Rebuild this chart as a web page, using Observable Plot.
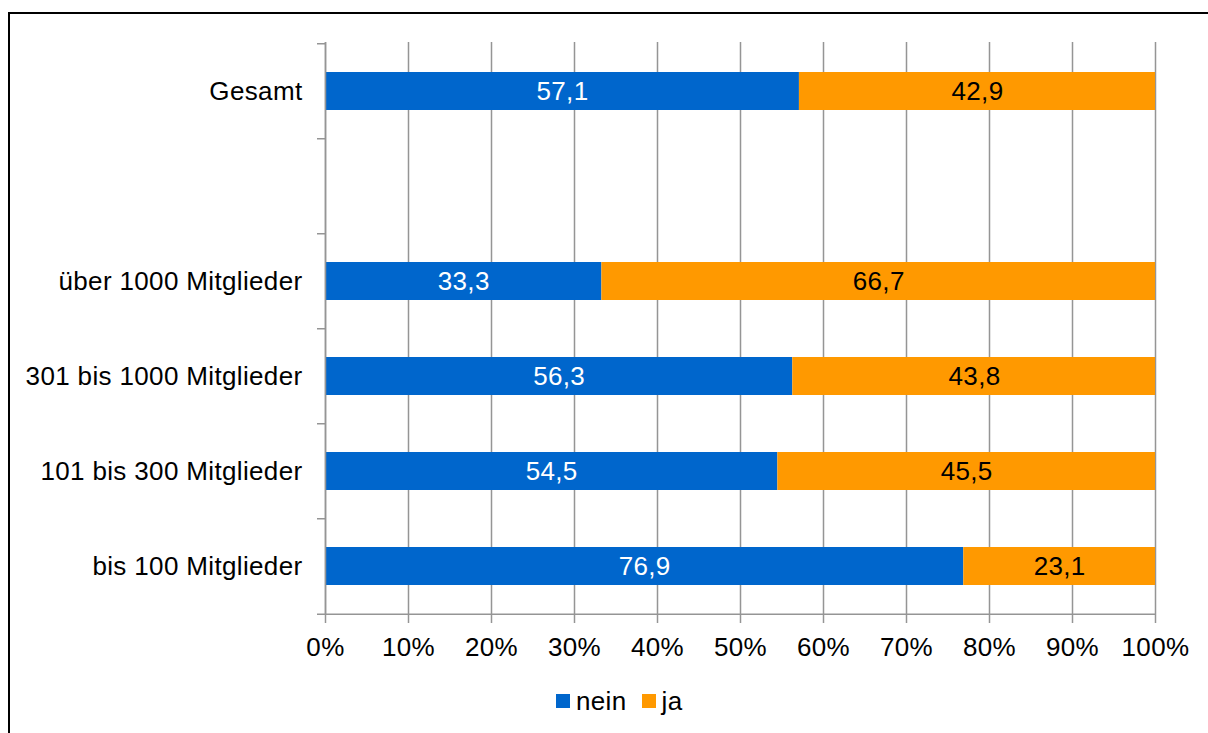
<!DOCTYPE html>
<html><head><meta charset="utf-8">
<script src="https://cdn.jsdelivr.net/npm/d3@7"></script>
<script src="https://cdn.jsdelivr.net/npm/@observablehq/plot@0.6"></script>
<style>
body{margin:0;background:#fff;font-family:"Liberation Sans",Arial,sans-serif;overflow:hidden;}
#frame{position:absolute;left:8px;top:12px;width:1400px;height:900px;border:2px solid #000;box-sizing:border-box;}
#chart{position:absolute;left:0;top:0;}
#chart svg text{letter-spacing:0.35px;}
#legend{position:absolute;left:556px;top:686px;display:flex;align-items:center;font-size:26px;color:#000;line-height:30px;letter-spacing:0.35px;}
#legend .sw{display:inline-block;width:14px;height:14px;margin-right:6px;}
#legend .item{display:flex;align-items:center;margin-right:15px;}
</style></head>
<body>
<div id="frame"></div>
<div id="chart"></div>
<div id="legend"></div>
<script>
const categories = ["Gesamt", " ", "über 1000 Mitglieder", "301 bis 1000 Mitglieder", "101 bis 300 Mitglieder", "bis 100 Mitglieder"];
const groups = ["Gesamt", "über 1000 Mitglieder", "301 bis 1000 Mitglieder", "101 bis 300 Mitglieder", "bis 100 Mitglieder"];
const nein = [57.1, 33.3, 56.3, 54.5, 76.9];
const ja = [42.9, 66.7, 43.8, 45.5, 23.1];
const seriesNames = ["nein", "ja"];
const seriesColors = ["#0066CC", "#FF9900"];
const labelColors = ["#ffffff", "#000000"];
const xTicks = [0, 10, 20, 30, 40, 50, 60, 70, 80, 90, 100];

const data = groups.flatMap((g, i) => [
  {cat: g, series: "nein", value: nein[i]},
  {cat: g, series: "ja", value: ja[i]}
]);

const W = 1208, H = 670, mL = 325, mR = 53, mT = 42, mB = 55;
const step = (H - mT - mB) / categories.length;
const fmt = v => d3.format(".1f")(v).replace(".", ",");
const gray = "#959595";

const labelMarks = seriesNames.map((s, i) =>
  Plot.text(data, Plot.stackX({
    x: "value", y: "cat", z: "series",
    text: d => d.series === s ? fmt(d.value) : "",
    fill: labelColors[i]
  }))
);

const chart = Plot.plot({
  width: W, height: H,
  marginLeft: mL, marginRight: mR, marginTop: mT, marginBottom: mB,
  style: {fontFamily: "'Liberation Sans', Arial, sans-serif", fontSize: "26px", color: "#000", background: "transparent", overflow: "visible"},
  x: {domain: [0, 100], clamp: true, label: null},
  y: {domain: categories, paddingInner: 0.6, paddingOuter: 0.3, label: null},
  color: {domain: seriesNames, range: seriesColors},
  marks: [
    Plot.ruleX(xTicks, {stroke: gray, strokeWidth: 1.5}),
    Plot.barX(data, Plot.stackX({x: "value", y: "cat", fill: "series"})),
    ...labelMarks,
    Plot.ruleX([0], {stroke: gray, strokeWidth: 1.5}),
    Plot.ruleY([categories[categories.length - 1]], {dy: step / 2, insetLeft: -8, stroke: gray, strokeWidth: 1.5}),
    Plot.axisY({tickSize: 0, tickPadding: 23, tickFormat: d => d.trim(), label: null}),
    Plot.axisY({tickSize: 8, tickPadding: 0, tickFormat: () => "", dy: -step / 2, stroke: gray, strokeWidth: 1.5, label: null}),
    Plot.axisX({ticks: xTicks, tickSize: 8, tickPadding: 14, tickFormat: d => d + "%", stroke: gray, strokeWidth: 1.5, label: null})
  ]
});
document.getElementById("chart").appendChild(chart);

const legend = document.getElementById("legend");
seriesNames.forEach((s, i) => {
  const item = document.createElement("span");
  item.className = "item";
  const sw = document.createElement("span");
  sw.className = "sw";
  sw.style.background = seriesColors[i];
  const t = document.createElement("span");
  t.textContent = s;
  item.appendChild(sw); item.appendChild(t);
  legend.appendChild(item);
});
</script>
</body></html>
